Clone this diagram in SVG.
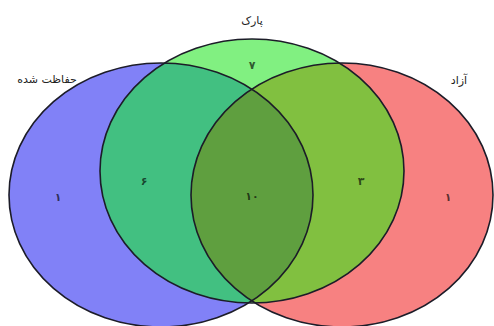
<svg xmlns="http://www.w3.org/2000/svg" width="494" height="326" viewBox="0 0 494 326">
<style>
.lbl{font-family:"DejaVu Sans",sans-serif;font-size:11px;fill:#222;text-anchor:middle}
.num{font-family:"DejaVu Sans",sans-serif;font-size:11px;font-weight:bold;text-anchor:middle;fill:#000;fill-opacity:0.65}
.edge{fill:none;stroke:#1c1c28;stroke-width:1.6}
</style>
<defs>
<clipPath id="cB"><ellipse cx="161" cy="195" rx="152" ry="132"/></clipPath>
<clipPath id="cR"><ellipse cx="342" cy="195" rx="151" ry="132"/></clipPath>
<clipPath id="cG"><ellipse cx="252" cy="171" rx="152" ry="132"/></clipPath>
</defs>
<rect width="494" height="326" fill="#ffffff"/>
<g id="set-protected">
<ellipse cx="161" cy="195" rx="152" ry="132" fill="#8181f7"/>
</g>
<g id="set-free">
<ellipse cx="342" cy="195" rx="151" ry="132" fill="#f78181"/>
</g>
<g id="set-park">
<ellipse cx="252" cy="171" rx="152" ry="132" fill="#81f081"/>
<g clip-path="url(#cB)"><ellipse cx="252" cy="171" rx="152" ry="132" fill="#42c081"/></g>
<g clip-path="url(#cR)"><ellipse cx="252" cy="171" rx="152" ry="132" fill="#81c040"/></g>
<g clip-path="url(#cB)"><g clip-path="url(#cR)"><ellipse cx="252" cy="171" rx="152" ry="132" fill="#5f9f3f"/></g></g>
</g>
<g id="outlines">
<ellipse class="edge" cx="161" cy="195" rx="152" ry="132"/>
<ellipse class="edge" cx="342" cy="195" rx="151" ry="132"/>
<ellipse class="edge" cx="252" cy="171" rx="152" ry="132"/>
</g>
<g id="labels">
<text class="lbl" x="252" y="24" direction="rtl">پارک</text>
<text class="lbl" x="47" y="83" direction="rtl">حفاظت شده</text>
<text class="lbl" x="459" y="84" direction="rtl">آزاد</text>
</g>
<g id="counts">
<text class="num" x="252" y="69">۷</text>
<text class="num" x="58" y="201">۱</text>
<text class="num" x="144" y="185">۶</text>
<text class="num" x="252" y="200">۱۰</text>
<text class="num" x="361" y="185">۳</text>
<text class="num" x="448" y="201">۱</text>
</g>
</svg>
